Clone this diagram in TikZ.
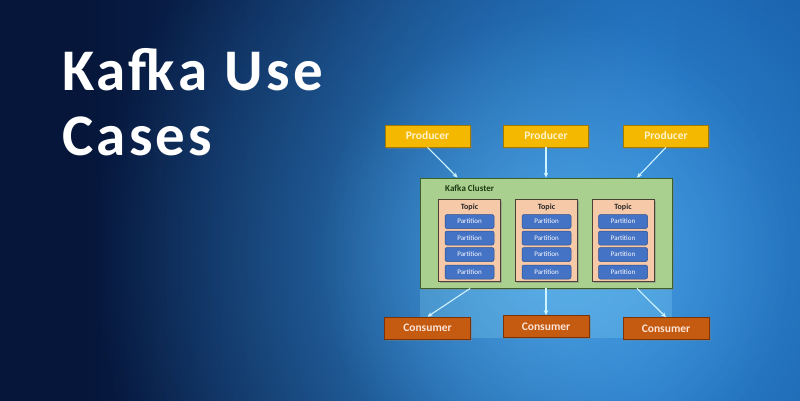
\documentclass[tikz,border=0pt]{standalone}
\usepackage{fontspec}
\setmainfont{Carlito}
\newfontfamily\titlefont[LetterSpace=5.5]{Carlito}
\usetikzlibrary{fadings,shadows,calc,arrows.meta}
\tikzfading[name=myglow,inner color=transparent!0,outer color=transparent!100]
\definecolor{navy}{HTML}{06163A}
\definecolor{midnavy}{HTML}{0B2858}
\definecolor{bgblue}{HTML}{1152A0}
\definecolor{edgeblue}{HTML}{0F4A90}
\definecolor{glow}{HTML}{3C9FE8}
\pgfdeclarehorizontalshading{bgshade}{100bp}{color(0bp)=(navy); color(30bp)=(navy); color(45bp)=(midnavy); color(65bp)=(bgblue); color(100bp)=(edgeblue)}
\definecolor{prodfill}{HTML}{F5B800}
\definecolor{prodline}{HTML}{A07A00}
\definecolor{prodtext}{HTML}{FFF4CC}
\definecolor{consfill}{HTML}{C55A11}
\definecolor{consline}{HTML}{7A3308}
\definecolor{constext}{HTML}{FCE4D6}
\definecolor{clfill}{HTML}{A9D08E}
\definecolor{clline}{HTML}{3E5E2A}
\definecolor{cltext}{HTML}{1D3A12}
\definecolor{topfill}{HTML}{F6C9A8}
\definecolor{topline}{HTML}{4A4038}
\definecolor{partfill}{HTML}{4472C4}
\definecolor{partline}{HTML}{2F4F8F}
\definecolor{arrowc}{HTML}{CFF3FF}
\tikzset{
  boxshadow/.style={drop shadow={opacity=0.45,shadow xshift=1.5pt,shadow yshift=-1.5pt}},
  titletext/.style={anchor=base west,inner sep=0pt,text=white,font=\titlefont\bfseries\fontsize{59}{65}\selectfont},
  prodbox/.style={boxshadow,fill=prodfill,draw=prodline,line width=0.6pt,minimum width=85pt,minimum height=22pt,inner sep=0pt,text=prodtext,font=\bfseries\fontsize{11.5}{12}\selectfont},
  consbox/.style={boxshadow,fill=consfill,draw=consline,line width=0.6pt,minimum width=86pt,minimum height=22pt,inner sep=0pt,text=constext,font=\bfseries\fontsize{11.5}{12}\selectfont},
  clusterbox/.style={boxshadow,fill=clfill,draw=clline,line width=0.8pt,minimum width=252pt,minimum height=110pt,inner sep=0pt},
  topicbox/.style={boxshadow,fill=topfill,draw=topline,line width=0.8pt,minimum width=62pt,minimum height=82pt,inner sep=0pt},
  topiclabel/.style={inner sep=0pt,text=black!85,font=\bfseries\fontsize{8}{9}\selectfont},
  partbox/.style={fill=partfill,draw=partline,line width=0.5pt,rounded corners=2pt,minimum width=49pt,minimum height=14pt,inner sep=0pt,text=white,font=\fontsize{7}{8}\selectfont},
  conn/.style={draw=arrowc,line width=1.1pt,-{Stealth[length=5pt,width=4.5pt]}}
}
\begin{document}
\begin{tikzpicture}[x=1pt,y=-1pt]
\useasboundingbox (0,0) rectangle (800,400);
% background
\shade[shading=bgshade] (0,0) rectangle (800,400);
\fill[glow,path fading=myglow,opacity=0.85] (575,255) circle (480);
\fill[glow!80!white,path fading=myglow,opacity=0.5] (555,255) circle (240);
% title
\node[titletext] (title1) at (62,90.5) {Kafka Use};
\node[titletext] (title2) at (62,155) {Cases};
% light area below cluster
\fill[cyan!45!white,opacity=0.25] (420,288) rectangle (672,338);
% producers
\node[prodbox] (p1) at (427.5,136) {Producer};
\node[prodbox] (p2) at (546,136) {Producer};
\node[prodbox] (p3) at (666,136) {Producer};
% cluster
\node[clusterbox] (cl) at (546,233) {};
\node[anchor=west,inner sep=0pt,text=cltext,font=\bfseries\fontsize{9}{10}\selectfont] (cllabel) at (445,188) {Kafka Cluster};
% topics
\foreach \n/\x in {1/469.5,2/546.5,3/623}{
  \node[topicbox] (t\n) at (\x,240) {};
  \node[topiclabel] (tl\n) at (\x,207.5) {Topic};
  \node[partbox] (t\n p1) at (\x,221.5) {Partition};
  \node[partbox] (t\n p2) at (\x,238) {Partition};
  \node[partbox] (t\n p3) at (\x,254.5) {Partition};
  \node[partbox] (t\n p4) at (\x,272) {Partition};
}
% consumers
\node[consbox] (c1) at (427.5,328) {Consumer};
\node[consbox] (c2) at (546,326.5) {Consumer};
\node[consbox] (c3) at (666,328.5) {Consumer};
% connector ends on the cluster
\coordinate (in1) at ($(cl.north west)!0.15!(cl.north east)$);
\coordinate (in2) at ($(cl.north west)!0.5!(cl.north east)$);
\coordinate (in3) at ($(cl.north west)!0.86!(cl.north east)$);
\coordinate (out1) at ($(cl.south west)!0.2!(cl.south east)$);
\coordinate (out2) at ($(cl.south west)!0.5!(cl.south east)$);
\coordinate (out3) at ($(cl.south west)!0.86!(cl.south east)$);
\draw[conn] (p1.south) -- (in1);
\draw[conn] (p2.south) -- (in2);
\draw[conn] (p3.south) -- (in3);
\draw[conn] (out1) -- (c1.north);
\draw[conn] (out2) -- (c2.north);
\draw[conn] (out3) -- (c3.north);
\end{tikzpicture}
\end{document}
